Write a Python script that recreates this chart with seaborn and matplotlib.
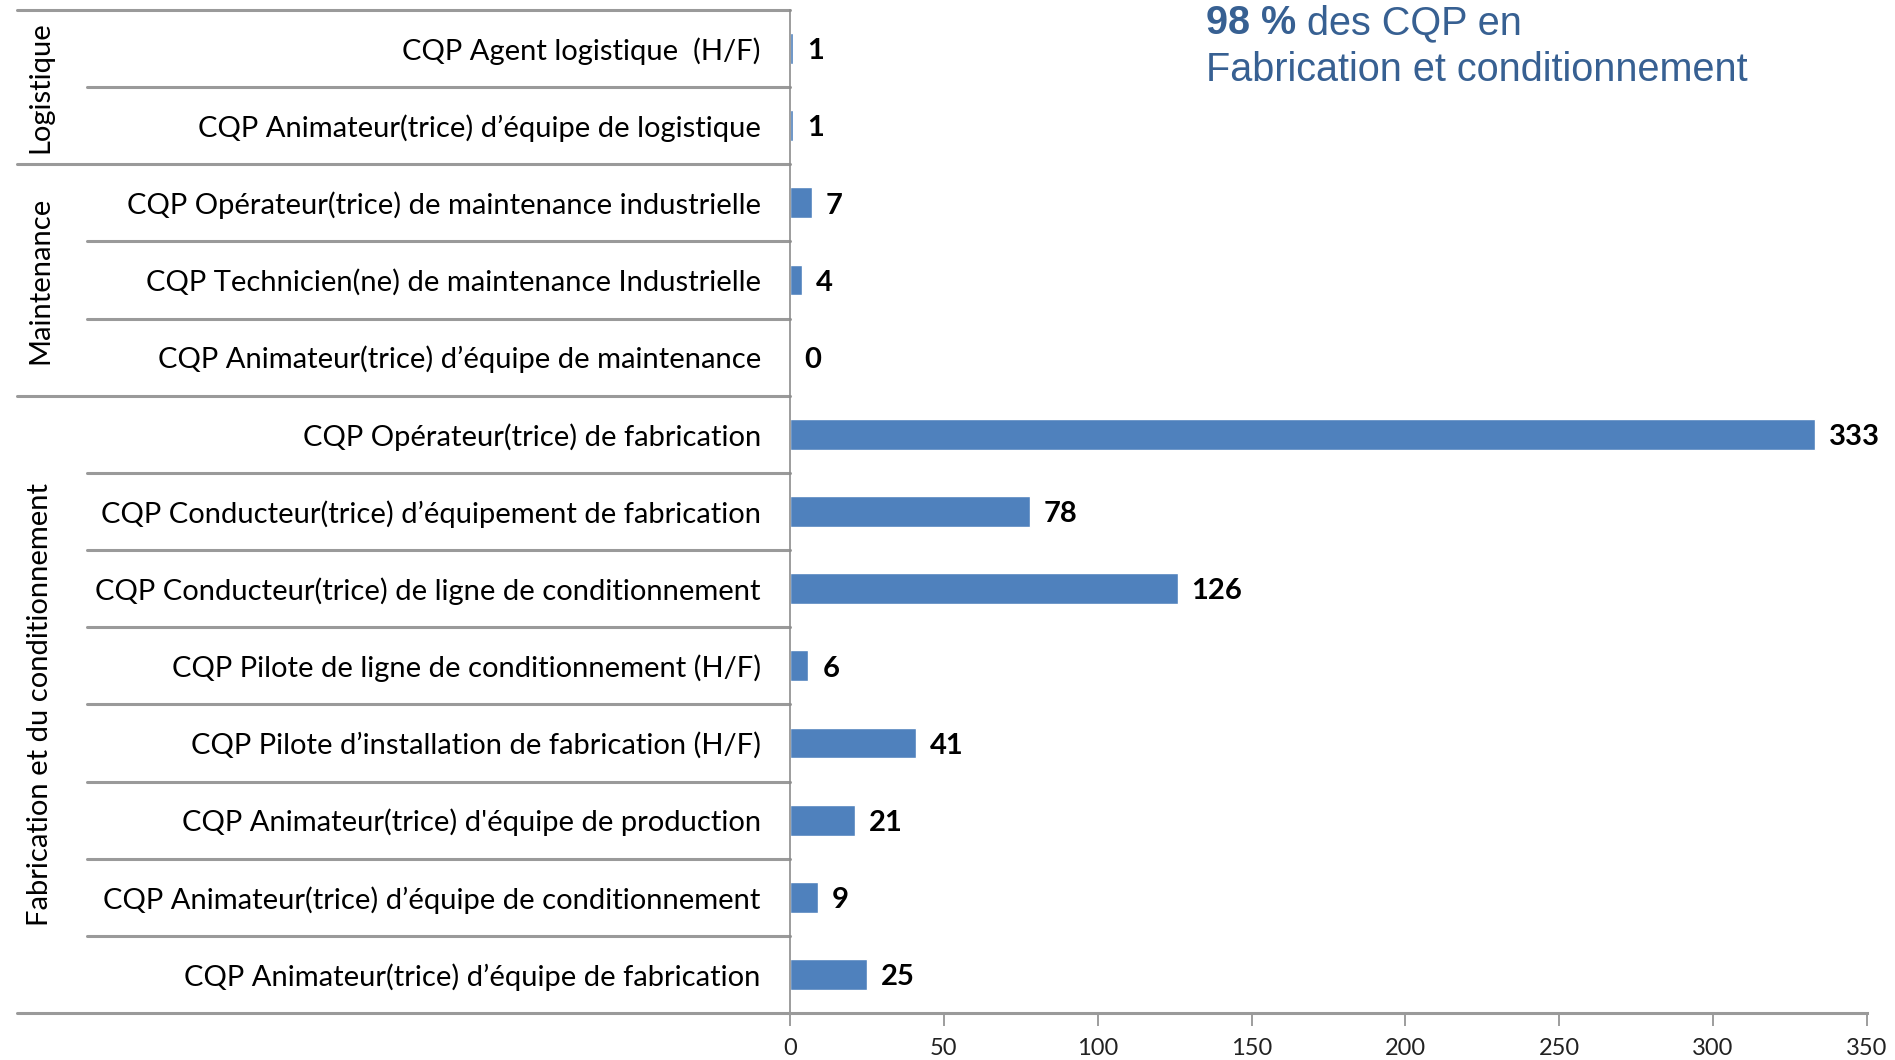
import matplotlib
matplotlib.use('Agg')
import matplotlib.pyplot as plt
import matplotlib.transforms as mtransforms
import pandas as pd
import seaborn as sns

labels = [
    'CQP Agent logistique  (H/F)',
    'CQP Animateur(trice) d\u2019équipe de logistique',
    'CQP Opérateur(trice) de maintenance industrielle',
    'CQP Technicien(ne) de maintenance Industrielle',
    'CQP Animateur(trice) d\u2019équipe de maintenance',
    'CQP Opérateur(trice) de fabrication',
    'CQP Conducteur(trice) d\u2019équipement de fabrication',
    'CQP Conducteur(trice) de ligne de conditionnement',
    'CQP Pilote de ligne de conditionnement (H/F)',
    'CQP Pilote d\u2019installation de fabrication (H/F)',
    "CQP Animateur(trice) d'équipe de production",
    'CQP Animateur(trice) d\u2019équipe de conditionnement',
    'CQP Animateur(trice) d\u2019équipe de fabrication',
]
values = [1, 1, 7, 4, 0, 333, 78, 126, 6, 41, 21, 9, 25]
groups = ['Logistique', 'Maintenance', 'Fabrication et du conditionnement']
group_sizes = [2, 3, 8]
x_ticks = [0, 50, 100, 150, 200, 250, 300, 350]

sns.set_theme(style='white')
plt.rcParams['font.family'] = ['Lato', 'DejaVu Sans']

fig = plt.figure(figsize=(18.95, 10.6), dpi=100)
ax = fig.add_axes([0.4169, 0.0443, 0.5683, 0.9463])

df = pd.DataFrame({'label': labels, 'value': values})
sns.barplot(data=df, x='value', y='label', orient='h', color='#4F81BD',
            saturation=1, width=0.4, ax=ax)

ax.set_xlim(0, 350)
ax.set_ylim(12.5, -0.5)
ax.set_xticks(x_ticks)
ax.set_xlabel('')
ax.set_ylabel('')

for s in ['top', 'right']:
    ax.spines[s].set_visible(False)
ax.spines['left'].set_color('#8c8c8c')
ax.spines['left'].set_linewidth(1.2)
ax.spines['bottom'].set_color('#9a9a9a')
ax.spines['bottom'].set_linewidth(2.2)

ax.tick_params(axis='y', length=0, pad=21, labelsize=21, labelcolor='black')
ax.tick_params(axis='x', bottom=True, length=9, width=1.2, color='#8c8c8c',
               pad=9, labelsize=17, labelcolor='#222222')

# value labels, a bit lower than centre like the original
for i, v in enumerate(values):
    ax.annotate(f'{v}', xy=(v, i), xytext=(10, -2), textcoords='offset points',
                ha='left', va='center', fontsize=21, fontweight='bold', color='black')

# table lines on the left
trans = mtransforms.blended_transform_factory(ax.transAxes, ax.transData)
x_outer = -0.7177
x_inner = -0.6527
ends = []
n = 0
for size in group_sizes:
    n += size
    ends.append(n - 0.5)

ax.plot([x_outer, 0], [-0.5, -0.5], color='#9a9a9a', lw=2.2, transform=trans, clip_on=False)
ax.plot([x_outer, 0], [12.5, 12.5], color='#9a9a9a', lw=2.2, transform=trans, clip_on=False)
for i in range(len(labels) - 1):
    yb = i + 0.5
    x0 = x_outer if yb in ends else x_inner
    ax.plot([x0, 0], [yb, yb], color='#9a9a9a', lw=2.2, transform=trans, clip_on=False)

start = 0
for g, size in zip(groups, group_sizes):
    center = start + size / 2 - 0.5
    ax.text(-0.6964, center, g, rotation=90, ha='center', va='center',
            fontsize=21, color='black', transform=trans)
    start += size

# headline
blue = '#376092'
t = fig.text(1206 / 1895, 1 - 34 / 1060, '98 %', fontsize=28.5, fontweight='bold',
             color=blue, family='Liberation Sans', va='baseline')
ax.annotate(' des CQP en', xy=(1, 0), xycoords=t, va='bottom', ha='left',
            fontsize=28.5, color=blue, family='Liberation Sans', annotation_clip=False)
fig.text(1206 / 1895, 1 - 81 / 1060, 'Fabrication et conditionnement', fontsize=28.5,
         color=blue, family='Liberation Sans', va='baseline')

fig.savefig('out.png', dpi=100)
